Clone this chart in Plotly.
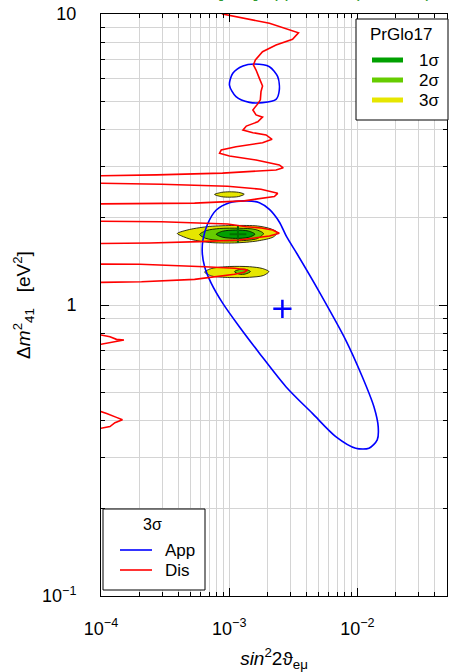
import plotly.graph_objects as go

# ---------------- data ----------------
# Disappearance 3-sigma contour (one continuous curve leaving the frame on the left)
dis_x = [7.69e-4, 8.87e-4, 2.06e-3, 2.94e-3, 3.47e-3, 3.12e-3, 2.32e-3, 1.82e-3, 1.60e-3, 1.545e-3,
         1.62e-3, 1.72e-3, 1.82e-3, 1.77e-3, 1.75e-3, 1.67e-3, 1.53e-3, 1.62e-3, 1.82e-3, 1.67e-3,
         1.36e-3, 1.28e-3, 1.53e-3, 1.94e-3, 2.16e-3, 1.82e-3, 1.13e-3, 8.67e-4, 8.41e-4, 1.005e-3,
         1.62e-3, 2.46e-3, 2.64e-3, 2.32e-3, 8.87e-4, 2.71e-4, 1.0e-4, 5e-5,
         5e-5, 1e-4, 2.96e-4, 9.70e-4, 1.77e-3, 2.39e-3, 2.25e-3, 1.31e-3, 5.37e-4, 1e-4, 5e-5,
         5e-5, 1e-4, 2.96e-4, 9.75e-4, 1.36e-3, 1.78e-3, 2.18e-3, 2.46e-3, 2.06e-3, 1.20e-3, 5.88e-4,
         2.40e-4, 1e-4, 5e-5,
         5e-5, 1e-4, 2.01e-4, 6.43e-4, 1.10e-3, 1.39e-3, 1.31e-3, 1.10e-3, 5.37e-4, 2.07e-4, 1e-4, 5e-5,
         5e-5, 1e-4, 1.175e-4, 1.32e-4, 1.51e-4, 1.285e-4, 1.107e-4, 1e-4, 5e-5,
         5e-5, 1e-4, 1.107e-4, 1.32e-4, 1.47e-4, 1.285e-4, 1.175e-4, 1e-4, 5e-5]
dis_y = [10.74, 10.0, 9.29, 8.86, 8.62, 8.19, 7.83, 7.42, 6.95, 6.68,
         6.42, 6.01, 5.66, 5.41, 5.07, 4.91, 4.68, 4.50, 4.42, 4.26,
         4.12, 3.99, 3.91, 3.84, 3.71, 3.61, 3.50, 3.41, 3.32, 3.25,
         3.15, 3.03, 2.96, 2.91, 2.84, 2.80, 2.78, 2.77,
         2.62, 2.62, 2.60, 2.56, 2.50, 2.42, 2.36, 2.28, 2.24, 2.22, 2.22,
         1.944, 1.944, 1.933, 1.898, 1.858, 1.839, 1.810, 1.764, 1.726, 1.673, 1.651,
         1.634, 1.621, 1.621,
         1.383, 1.383, 1.380, 1.354, 1.337, 1.319, 1.295, 1.275, 1.225, 1.202, 1.193, 1.19,
         0.789, 0.789, 0.778, 0.762, 0.758, 0.748, 0.739, 0.733, 0.733,
         0.430, 0.430, 0.424, 0.411, 0.403, 0.394, 0.382, 0.377, 0.377]

# Appearance 3-sigma contour (two closed islands)
app_x = [1.36e-3, 1.005e-3, 7.93e-4, 6.82e-4, 6.24e-4, 6.17e-4, 6.43e-4, 7.25e-4, 8.92e-4, 1.20e-3,
         1.72e-3, 2.77e-3, 4.46e-3, 6.78e-3, 9.70e-3, 1.231e-2, 1.428e-2, 1.453e-2, 1.346e-2, 1.092e-2,
         8.11e-3, 5.12e-3, 3.39e-3, 2.81e-3, 2.46e-3, 2.06e-3, 1.72e-3, 1.36e-3, None,
         1.57e-3, 2.06e-3, 2.39e-3, 2.46e-3, 2.32e-3, 1.82e-3, 1.44e-3, 1.13e-3, 1.005e-3, 1.067e-3,
         1.28e-3, 1.57e-3]
app_y = [2.28, 2.247, 2.121, 1.909, 1.673, 1.505, 1.354, 1.187, 1.013, 0.842,
         0.683, 0.524, 0.424, 0.353, 0.322, 0.322, 0.344, 0.382, 0.447, 0.567,
         0.758, 1.097, 1.497, 1.713, 1.929, 2.130, 2.247, 2.28, None,
         6.73, 6.59, 6.09, 5.48, 5.09, 4.96, 4.97, 5.20, 5.70, 6.26,
         6.63, 6.73]
app_best_x = [2.6e-3]
app_best_y = [0.97]

# PrGlo17 global-fit regions
glo_3s_main_x = [3.94e-4, 4.91e-4, 7.03e-4, 1.10e-3, 1.66e-3, 2.13e-3, 2.37e-3, 2.21e-3, 1.66e-3, 1.10e-3,
                 7.03e-4, 5.09e-4, 4.26e-4, 3.94e-4]
glo_3s_main_y = [1.761, 1.818, 1.862, 1.876, 1.869, 1.825, 1.775, 1.713, 1.660, 1.634,
                 1.640, 1.679, 1.726, 1.761]
glo_3s_up_x = [7.69e-4, 8.71e-4, 1.005e-3, 1.18e-3, 1.31e-3, 1.18e-3, 1.005e-3, 8.71e-4, 7.69e-4]
glo_3s_up_y = [2.398, 2.438, 2.449, 2.439, 2.403, 2.358, 2.347, 2.356, 2.398]
glo_3s_low_x = [6.43e-4, 7.29e-4, 1.005e-3, 1.44e-3, 1.814e-3, 2.038e-3, 1.85e-3, 1.44e-3, 1.005e-3, 7.29e-4, 6.43e-4]
glo_3s_low_y = [1.298, 1.335, 1.356, 1.354, 1.335, 1.303, 1.263, 1.245, 1.243, 1.258, 1.298]
glo_2s_main_x = [5.88e-4, 6.66e-4, 8.41e-4, 1.20e-3, 1.60e-3, 1.85e-3, 1.66e-3, 1.20e-3, 8.41e-4, 6.54e-4, 5.88e-4]
glo_2s_main_y = [1.747, 1.803, 1.832, 1.836, 1.818, 1.761, 1.692, 1.662, 1.666, 1.695, 1.747]
glo_2s_low_x = [1.10e-3, 1.20e-3, 1.339e-3, 1.464e-3, 1.339e-3, 1.20e-3, 1.10e-3]
glo_2s_low_y = [1.302, 1.324, 1.327, 1.303, 1.278, 1.276, 1.302]
glo_1s_x = [7.93e-4, 8.87e-4, 1.12e-3, 1.413e-3, 1.587e-3, 1.413e-3, 1.12e-3, 8.87e-4, 7.93e-4]
glo_1s_y = [1.751, 1.793, 1.810, 1.796, 1.751, 1.707, 1.694, 1.710, 1.751]
glo_best_x = [1.17e-3]
glo_best_y = [1.75]

sigma_names = ["1σ", "2σ", "3σ"]
sigma_colors = ["#00a000", "#66cc00", "#e6e600"]
contour_names = ["App", "Dis"]
contour_colors = ["#0000ff", "#ff0000"]

x_tickvals = [1e-4, 1e-3, 1e-2]
x_ticktext = ["10<sup>−4</sup>", "10<sup>−3</sup>", "10<sup>−2</sup>"]
y_tickvals = [0.1, 1, 10]
y_ticktext = ["10<sup>−1</sup>", "1", "10"]

# ---------------- figure ----------------
fig = go.Figure()

def region(xs, ys, color):
    fig.add_trace(go.Scatter(x=xs, y=ys, mode="lines", fill="toself", fillcolor=color,
                             line=dict(color="black", width=0.8, shape="spline", smoothing=0.8),
                             showlegend=False, hoverinfo="skip"))

region(glo_3s_main_x, glo_3s_main_y, sigma_colors[2])
region(glo_3s_up_x, glo_3s_up_y, sigma_colors[2])
region(glo_3s_low_x, glo_3s_low_y, sigma_colors[2])
region(glo_2s_main_x, glo_2s_main_y, sigma_colors[1])
region(glo_2s_low_x, glo_2s_low_y, sigma_colors[1])
region(glo_1s_x, glo_1s_y, sigma_colors[0])

fig.add_trace(go.Scatter(x=glo_best_x, y=glo_best_y, mode="markers",
                         marker=dict(symbol="cross-thin", size=12, line=dict(color="#007000", width=2)),
                         showlegend=False))

fig.add_trace(go.Scatter(x=app_x, y=app_y, mode="lines", name="App", showlegend=False,
                         line=dict(color=contour_colors[0], width=1.6, shape="spline", smoothing=0.8)))
fig.add_trace(go.Scatter(x=dis_x, y=dis_y, mode="lines", name="Dis", showlegend=False,
                         line=dict(color=contour_colors[1], width=1.6)))
fig.add_trace(go.Scatter(x=app_best_x, y=app_best_y, mode="markers",
                         marker=dict(symbol="cross-thin", size=13, line=dict(color="#0000ff", width=2.5)),
                         showlegend=False))

# ---------------- legend boxes (drawn in paper coordinates) ----------------
W, H = 449, 672
L, R, T, B = 101, 2, 14, 76
pw, ph = W - L - R, H - T - B

def px(x):
    return (x - L) / pw

def py(y):
    return (H - B - y) / ph

shapes = []
annotations = []

# PrGlo17 legend (top right)
shapes.append(dict(type="rect", xref="paper", yref="paper", x0=px(356), x1=px(448), y0=py(120), y1=py(19),
                   fillcolor="white", line=dict(color="black", width=1), layer="above"))
annotations.append(dict(text="PrGlo17", xref="paper", yref="paper", x=px(401), y=py(35),
                        xanchor="center", yanchor="middle", showarrow=False, font=dict(size=17)))
for i, (n, c) in enumerate(zip(sigma_names, sigma_colors)):
    yy = 60 + 20 * i
    shapes.append(dict(type="line", xref="paper", yref="paper", x0=px(372), x1=px(403), y0=py(yy), y1=py(yy),
                       line=dict(color=c, width=5), layer="above"))
    annotations.append(dict(text=n, xref="paper", yref="paper", x=px(417), y=py(yy),
                            xanchor="left", yanchor="middle", showarrow=False, font=dict(size=17)))

# 3-sigma contour legend (bottom left)
shapes.append(dict(type="rect", xref="paper", yref="paper", x0=px(103), x1=px(205), y0=py(590), y1=py(509),
                   fillcolor="white", line=dict(color="black", width=1), layer="above"))
annotations.append(dict(text="3σ", xref="paper", yref="paper", x=px(152), y=py(524),
                        xanchor="center", yanchor="middle", showarrow=False, font=dict(size=16)))
for i, (n, c) in enumerate(zip(contour_names, contour_colors)):
    yy = 550 + 20 * i
    shapes.append(dict(type="line", xref="paper", yref="paper", x0=px(120), x1=px(152), y0=py(yy), y1=py(yy),
                       line=dict(color=c, width=1.6), layer="above"))
    annotations.append(dict(text=n, xref="paper", yref="paper", x=px(163), y=py(yy),
                            xanchor="left", yanchor="middle", showarrow=False, font=dict(size=17)))

# partially visible title at the very top
annotations.append(dict(text="[3+1] App vs Dis (PrGlo17)", xref="paper", yref="paper",
                        x=px(325), y=py(3), xanchor="center", yanchor="bottom", showarrow=False,
                        font=dict(size=18, color="#2e9a2e")))

grid = "#d4d4d4"
axis_common = dict(type="log", showline=True, linecolor="black", linewidth=1, mirror="allticks",
                   ticks="inside", ticklen=8, tickcolor="black", showgrid=True, gridcolor=grid,
                   gridwidth=1, zeroline=False, tickfont=dict(size=18), automargin=False,
                   minor=dict(ticks="inside", ticklen=4, tickcolor="black", dtick="D1",
                              showgrid=True, gridcolor=grid, gridwidth=1))

fig.update_layout(
    width=W, height=H,
    margin=dict(l=L, r=R, t=T, b=B),
    plot_bgcolor="white", paper_bgcolor="white",
    showlegend=False,
    font=dict(family="Liberation Sans, Arial, sans-serif", size=18, color="black"),
    xaxis=dict(axis_common, range=[-4, -1.30103], tickmode="array", tickvals=x_tickvals,
               ticktext=x_ticktext, ticklabelstandoff=16,
               title=dict(text="<i>sin</i><sup>2</sup>2ϑ<sub>eμ</sub>", standoff=18, font=dict(size=19))),
    yaxis=dict(axis_common, range=[-1, 1], tickmode="array", tickvals=y_tickvals,
               ticktext=y_ticktext, ticklabelstandoff=20,
               title=dict(text="Δ<i>m</i><sup>2</sup><sub>41</sub>   [eV<sup>2</sup>]", standoff=6,
                          font=dict(size=19))),
    shapes=shapes,
    annotations=annotations,
)

fig.write_html("out.html", config={"displayModeBar": False},
               post_script="document.body.style.margin='0';")
